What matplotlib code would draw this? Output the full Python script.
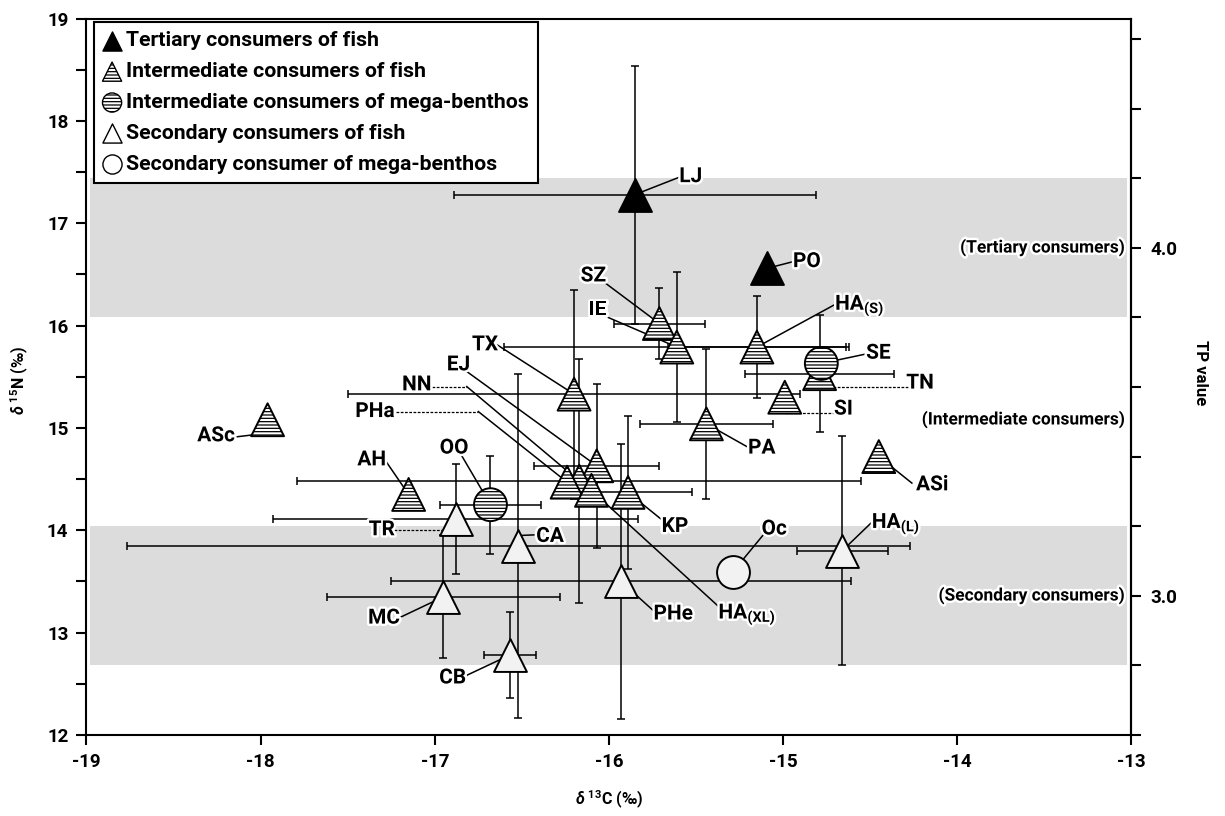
import matplotlib
matplotlib.use('Agg')
import matplotlib.pyplot as plt
import matplotlib.patheffects as pe
from matplotlib.ticker import MultipleLocator

plt.rcParams['font.family'] = ['Roboto', 'DejaVu Sans']
plt.rcParams['font.weight'] = 'bold'
plt.rcParams['axes.unicode_minus'] = False
plt.rcParams['mathtext.fontset'] = 'custom'
plt.rcParams['mathtext.rm'] = 'Roboto:bold'
plt.rcParams['mathtext.bf'] = 'Roboto:bold'
plt.rcParams['mathtext.it'] = 'Roboto:italic:bold'
plt.rcParams['mathtext.default'] = 'rm'
plt.rcParams['hatch.linewidth'] = 0.9

# ---- data: species means and SD ----
codes = ['LJ', 'PO', 'SZ', 'IE', 'HA(S)', 'TX', 'TN', 'SI', 'PA', 'ASc', 'ASi',
         'EJ', 'NN', 'PHa', 'HA(XL)', 'KP', 'AH', 'SE', 'OO',
         'TR', 'CA', 'HA(L)', 'PHe', 'MC', 'CB', 'Oc']
groups = ['T', 'T', 'IF', 'IF', 'IF', 'IF', 'IF', 'IF', 'IF', 'IF', 'IF',
          'IF', 'IF', 'IF', 'IF', 'IF', 'IF', 'IB', 'IB',
          'SF', 'SF', 'SF', 'SF', 'SF', 'SF', 'SB']
d13c = [-15.85, -15.09, -15.71, -15.61, -15.15, -16.20, -14.79, -14.99, -15.44, -17.96, -14.45,
        -16.07, -16.17, -16.24, -16.10, -15.89, -17.15, -14.78, -16.68,
        -16.88, -16.52, -14.66, -15.93, -16.95, -16.57, -15.29]
d15n = [17.28, 16.56, 16.02, 15.79, 15.79, 15.33, 15.53, 15.30, 15.04, 15.08, 14.72,
        14.63, 14.48, 14.47, 14.39, 14.37, 14.35, 15.63, 14.25,
        14.11, 13.85, 13.80, 13.50, 13.35, 12.78, 13.59]
sd13c = [1.04, 0, 0.26, 0.99, 0.51, 1.30, 0.43, 0, 0.38, 0, 0,
         0.36, 1.62, 0, 0, 0.37, 0, 0, 0.29,
         1.05, 2.25, 0.26, 1.32, 0.67, 0.15, 0]
sd15n = [1.26, 0, 0.35, 0.73, 0.50, 1.02, 0.57, 0, 0.73, 0, 0,
         0.80, 1.19, 0, 0, 0.75, 0, 0, 0.48,
         0.54, 1.68, 1.12, 1.34, 0.60, 0.42, 0]

legend_keys = ['T', 'IF', 'IB', 'SF', 'SB']
legend_labels = ['Tertiary consumers of fish',
                 'Intermediate consumers of fish',
                 'Intermediate consumers of mega-benthos',
                 'Secondary consumers of fish',
                 'Secondary consumer of mega-benthos']

tp_ticks = [2.6, 2.8, 3.0, 3.2, 3.4, 3.6, 3.8, 4.0, 4.2, 4.4, 4.6]
tp_ticklabels = ['', '', '3.0', '', '', '', '', '4.0', '', '', '']
tp_bands = [(2.8, 3.2), (3.8, 4.2)]

styles = {
    'T':  dict(marker='^', facecolor='black', hatch=None),
    'IF': dict(marker='^', facecolor='white', hatch='-----'),
    'IB': dict(marker='o', facecolor='white', hatch='-----'),
    'SF': dict(marker='^', facecolor='#f2f2f2', hatch=None),
    'SB': dict(marker='o', facecolor='#f2f2f2', hatch=None),
}


def n2tp(n):
    return 3.0 + (n - 13.36) / 3.4


def tp2n(t):
    return 13.36 + (t - 3.0) * 3.4


# label text, position, alignment and leader segments (None = the point itself)
label_text = {'HA(S)': r'HA$_{(S)}$', 'HA(L)': r'HA$_{(L)}$', 'HA(XL)': r'HA$_{(XL)}$'}
layout = {
    'LJ': ((-15.53, 17.455), 'center', [((-15.592, 17.452), None, '-')]),
    'PO': ((-14.863, 16.625), 'center', [((-14.948, 16.622), None, '-')]),
    'SZ': ((-16.089, 16.485), 'center', [((-16.032, 16.430), None, '-')]),
    'IE': ((-16.066, 16.153), 'center', [((-16.016, 16.088), None, '-')]),
    'HA(S)': ((-14.701, 16.153), 'left', [((-14.707, 16.201), None, '-')]),
    'SE': ((-14.452, 15.730), 'center', [((-14.519, 15.724), None, '-')]),
    'TN': ((-14.213, 15.438), 'center', [((-14.281, 15.404), (-14.794, 15.404), 'dash')]),
    'SI': ((-14.653, 15.184), 'center', [((-14.701, 15.150), (-14.994, 15.150), 'dash')]),
    'PA': ((-15.122, 14.803), 'center', [((-15.208, 14.818), None, '-')]),
    'ASi': ((-14.143, 14.444), 'center', [((-14.260, 14.461), None, '-')]),
    'TX': ((-16.711, 15.812), 'center', [((-16.642, 15.812), None, '-')]),
    'EJ': ((-16.864, 15.616), 'center', [((-16.816, 15.551), None, '-')]),
    'NN': ((-17.103, 15.421), 'center', [((-17.015, 15.404), (-16.816, 15.404), 'dash'),
                                         ((-16.816, 15.404), None, '-')]),
    'PHa': ((-17.343, 15.160), 'center', [((-17.222, 15.160), (-16.750, 15.160), 'dash'),
                                          ((-16.750, 15.160), None, '-')]),
    'ASc': ((-18.256, 14.923), 'center', [((-18.153, 14.910), (-18.03, 14.935), '-')]),
    'AH': ((-17.362, 14.688), 'center', [((-17.286, 14.688), None, '-')]),
    'OO': ((-16.889, 14.803), 'center', [((-16.845, 14.728), None, '-')]),
    'TR': ((-17.304, 14.005), 'center', [((-17.234, 14.005), (-16.883, 14.005), 'dash')]),
    'MC': ((-17.291, 13.142), 'center', [((-17.195, 13.152), None, '-')]),
    'CA': ((-16.338, 13.940), 'center', [((-16.414, 13.956), (-16.50, 13.95), '-')]),
    'KP': ((-15.620, 14.037), 'center', [((-15.696, 14.103), None, '-')]),
    'Oc': ((-15.051, 14.012), 'center', [((-15.113, 13.956), None, '-')]),
    'HA(L)': ((-14.490, 14.021), 'left', [((-14.495, 14.070), None, '-')]),
    'PHe': ((-15.630, 13.182), 'center', [((-15.744, 13.214), None, '-')]),
    'HA(XL)': ((-15.371, 13.136), 'left', [((-15.375, 13.263), None, '-')]),
    'CB': ((-16.897, 12.557), 'center', [((-16.820, 12.580), None, '-')]),
}

band_notes = [('(Tertiary consumers)', tp2n(4.0)),
              ('(Intermediate consumers)', 15.08),
              ('(Secondary consumers)', tp2n(3.0))]

fig = plt.figure(figsize=(12.25, 8.16), dpi=100)
ax = fig.add_axes([0.0706, 0.0993, 0.8529, 0.8780])
ax.set_xlim(-19, -13)
ax.set_ylim(12, 19)

glow = [pe.withStroke(linewidth=3.5, foreground='white')]

for lo, hi in tp_bands:
    ax.axhspan(tp2n(lo), tp2n(hi), xmin=0.003, xmax=0.996, color='#dcdcdd', lw=0, zorder=0)

for txt, yv in band_notes:
    ax.text(-13.035, yv, txt, ha='right', va='center', fontsize=12.5,
            path_effects=glow, zorder=5)

# error bars
for x, y, sx, sy in zip(d13c, d15n, sd13c, sd15n):
    if sx > 0:
        ax.errorbar(x, y, xerr=sx, fmt='none', ecolor='black', elinewidth=1.1,
                    capsize=3, capthick=1.1, zorder=2)
    if sy > 0:
        ax.errorbar(x, y, yerr=sy, fmt='none', ecolor='black', elinewidth=1.1,
                    capsize=3, capthick=1.1, zorder=2)

# leader lines and labels
pos = {c: (x, y) for c, x, y in zip(codes, d13c, d15n)}
for code, ((tx, ty), ha, segs) in layout.items():
    for p0, p1, ls in segs:
        p1 = pos[code] if p1 is None else p1
        style = (0, (2.2, 1.2)) if ls == 'dash' else '-'
        lw = 0.9 if ls == 'dash' else 1.1
        ax.plot([p0[0], p1[0]], [p0[1], p1[1]], color='black', lw=lw, ls=style, zorder=2.5)
    va = 'baseline' if ha == 'left' else 'center'
    ax.text(tx, ty, label_text.get(code, code), ha=ha, va=va, fontsize=15,
            path_effects=glow, zorder=5)

# markers
for key in legend_keys:
    st = styles[key]
    xs = [x for x, g in zip(d13c, groups) if g == key]
    ys = [y for y, g in zip(d15n, groups) if g == key]
    ax.scatter(xs, ys, s=560, marker=st['marker'], facecolor=st['facecolor'],
               edgecolor='black', linewidths=1.4, hatch=st['hatch'], zorder=4)

# legend with proxy symbols
handles = []
for key in legend_keys:
    st = styles[key]
    fc = 'black' if key == 'T' else 'white'
    handles.append(ax.scatter([], [], s=190, marker=st['marker'], facecolor=fc,
                              edgecolor='black', linewidths=1.0, hatch=st['hatch']))
leg = ax.legend(handles, legend_labels, loc='upper left', bbox_to_anchor=(0.0072, 0.9955),
                borderaxespad=0, frameon=True, fancybox=False, edgecolor='black',
                framealpha=1, fontsize=15.3, handlelength=0.8, handletextpad=0.25,
                borderpad=0.45, labelspacing=0.56, scatterpoints=1)
leg.get_frame().set_linewidth(1.5)
leg.set_zorder(10)

# axes styling
for sp in ax.spines.values():
    sp.set_linewidth(1.5)
ax.xaxis.set_major_locator(MultipleLocator(1))
ax.yaxis.set_major_locator(MultipleLocator(1))
ax.yaxis.set_minor_locator(MultipleLocator(0.5))
ax.tick_params(axis='both', which='major', direction='out', length=7, width=1.5,
               labelsize=13.5, pad=6)
ax.tick_params(axis='y', which='minor', direction='out', length=7, width=1.5)
ax.tick_params(axis='x', which='minor', bottom=False)

sec = ax.secondary_yaxis('right', functions=(n2tp, tp2n))
sec.set_yticks(tp_ticks)
sec.set_yticklabels(tp_ticklabels)
sec.tick_params(direction='out', length=7, width=1.5, labelsize=13.5, pad=7)
sec.spines['right'].set_linewidth(1.5)

fig.text(608.9 / 1225, 1 - 800 / 816, r'$\mathit{\delta}$ $^{13}$C (‰)', ha='center', va='center',
         fontsize=11.5)
fig.text(20 / 1225, 1 - 380 / 816, r'$\mathit{\delta}$ $^{15}$N (‰)', ha='center', va='center',
         fontsize=11.5, rotation=90)
fig.text(1200 / 1225, 1 - 373 / 816, 'TP value', ha='center', va='center',
         fontsize=12, rotation=270)

fig.savefig('out.png', dpi=100)
